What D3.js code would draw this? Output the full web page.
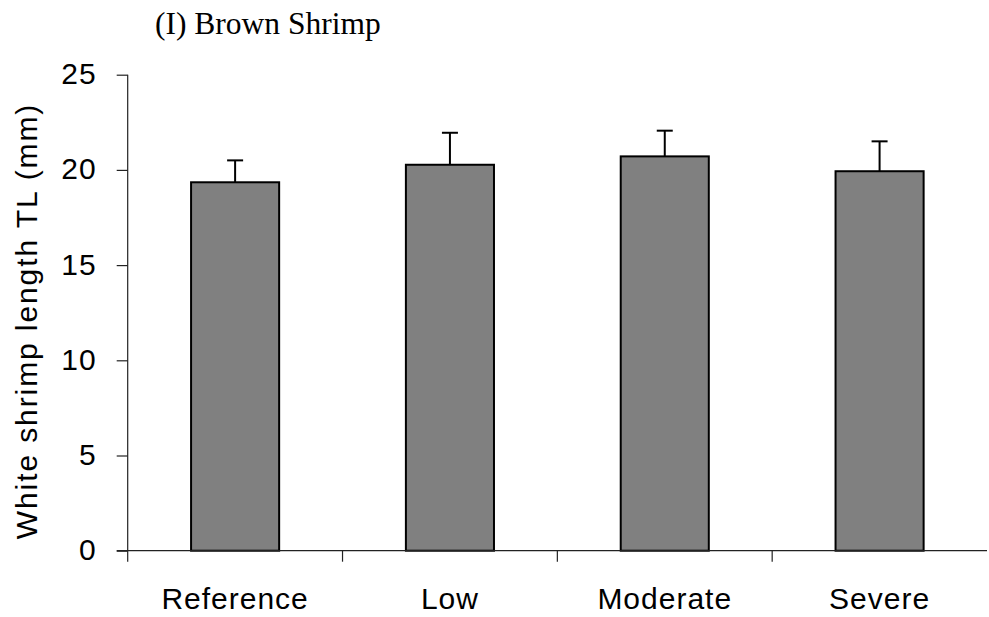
<!DOCTYPE html>
<html>
<head>
<meta charset="utf-8">
<script src="https://cdn.jsdelivr.net/npm/d3@7"></script>
<style>
  html, body { margin: 0; padding: 0; background: #fff; }
  svg { display: block; }
</style>
</head>
<body>
<svg id="chart" width="989" height="617"></svg>
<script>
// Mean total length by site category, with standard error
const categories = ["Reference", "Low", "Moderate", "Severe"];
const means = [19.35, 20.27, 20.71, 19.93];
const errors = [1.15, 1.68, 1.35, 1.57];
const yTicks = [0, 5, 10, 15, 20, 25];

const svg = d3.select("#chart");
const plot = { left: 127.7, right: 987, top: 74.7, bottom: 550.7 };

const x = d3.scaleBand().domain(categories).range([plot.left, plot.right]).padding(0);
const y = d3.scaleLinear().domain([0, 25]).range([plot.bottom, plot.top]);

const barW = x.bandwidth() * 0.41;
const tickLen = 11;
const sans = "'Liberation Sans', Arial, sans-serif";

// Title
svg.append("text")
  .attr("x", 155).attr("y", 34)
  .attr("font-family", "'Liberation Serif', 'Times New Roman', serif")
  .attr("font-size", 31.5)
  .attr("fill", "#000")
  .text("(I) Brown Shrimp");

// Bars
svg.append("g").selectAll("rect")
  .data(categories)
  .join("rect")
  .attr("x", (d) => x(d) + x.bandwidth() / 2 - barW / 2)
  .attr("y", (d, i) => y(means[i]))
  .attr("width", barW)
  .attr("height", (d, i) => y(0) - y(means[i]))
  .attr("fill", "#808080")
  .attr("stroke", "#000")
  .attr("stroke-width", 2);

// Error bars (upper only)
const eb = svg.append("g").attr("stroke", "#000").attr("stroke-width", 2);
categories.forEach((c, i) => {
  const cx = x(c) + x.bandwidth() / 2;
  eb.append("line")
    .attr("x1", cx).attr("x2", cx)
    .attr("y1", y(means[i])).attr("y2", y(means[i] + errors[i]));
  eb.append("line")
    .attr("x1", cx - 8).attr("x2", cx + 8)
    .attr("y1", y(means[i] + errors[i])).attr("y2", y(means[i] + errors[i]));
});

// Y axis
const yAxis = svg.append("g")
  .attr("transform", `translate(${plot.left},0)`)
  .call(d3.axisLeft(y).tickValues(yTicks).tickSize(tickLen).tickPadding(20).tickFormat(d3.format("d")));
yAxis.select(".domain").remove();
yAxis.append("line")
  .attr("x1", 0).attr("x2", 0)
  .attr("y1", plot.top).attr("y2", plot.bottom + tickLen)
  .attr("stroke", "#222").attr("stroke-width", 1.2);
yAxis.selectAll(".tick line").attr("stroke", "#222").attr("stroke-width", 1.2);
yAxis.selectAll(".tick text")
  .attr("font-family", sans)
  .attr("font-size", 30)
  .attr("letter-spacing", 1)
  .attr("fill", "#000")
  .attr("dy", "0.3em");

// X axis: baseline with ticks at category boundaries
const xg = svg.append("g");
xg.append("line")
  .attr("x1", plot.left - tickLen).attr("x2", plot.right)
  .attr("y1", plot.bottom).attr("y2", plot.bottom)
  .attr("stroke", "#222").attr("stroke-width", 1.2);
const bounds = categories.slice(1).map((c) => x(c));
xg.selectAll("line.bound")
  .data(bounds)
  .join("line")
  .attr("class", "bound")
  .attr("x1", (d) => d).attr("x2", (d) => d)
  .attr("y1", plot.bottom).attr("y2", plot.bottom + tickLen)
  .attr("stroke", "#222").attr("stroke-width", 1.2);
xg.selectAll("text")
  .data(categories)
  .join("text")
  .attr("x", (d) => x(d) + x.bandwidth() / 2)
  .attr("y", 609)
  .attr("text-anchor", "middle")
  .attr("font-family", sans)
  .attr("font-size", 30)
  .attr("letter-spacing", 1)
  .attr("fill", "#000")
  .text((d) => d);

// Y axis title
svg.append("text")
  .attr("transform", `translate(37,321) rotate(-90)`)
  .attr("text-anchor", "middle")
  .attr("font-family", sans)
  .attr("font-size", 30)
  .attr("letter-spacing", 1.9)
  .attr("fill", "#000")
  .text("White shrimp length TL (mm)");
</script>
</body>
</html>
